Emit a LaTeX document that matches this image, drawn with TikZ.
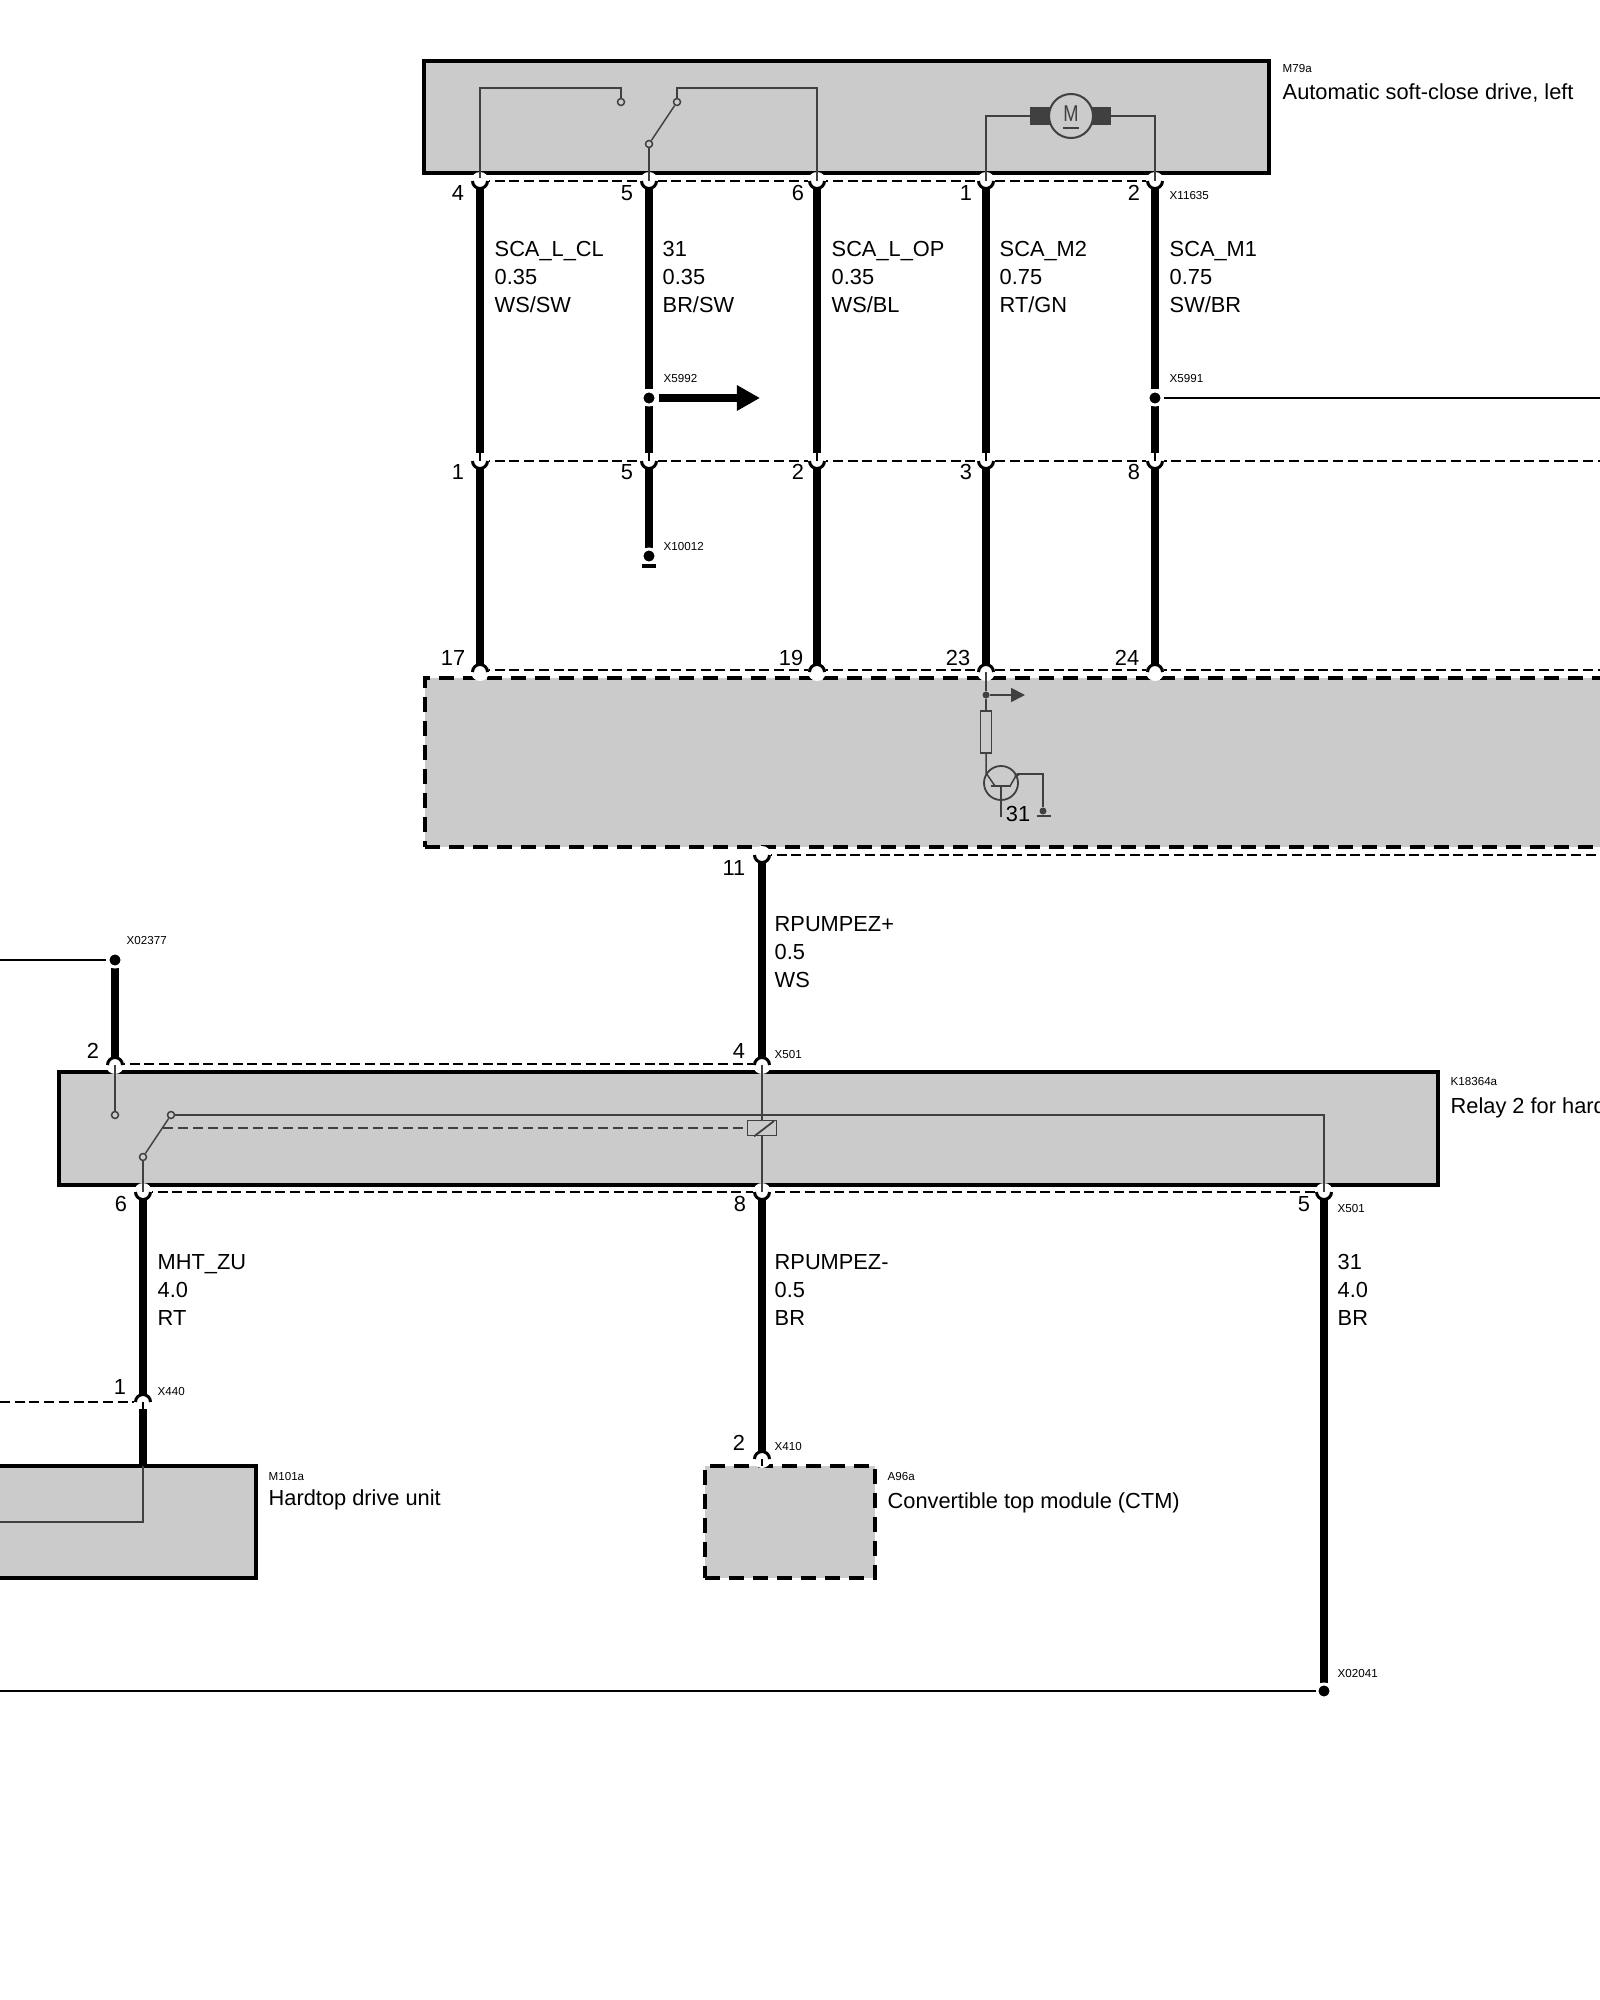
\documentclass[tikz,border=0pt]{standalone}
\usepackage{fontspec}
\setsansfont{Liberation Sans}
\usetikzlibrary{positioning}
\usetikzlibrary{arrows.meta}
\definecolor{modgray}{HTML}{CBCBCB}
\definecolor{inkgray}{HTML}{404040}
\tikzset{
	modbox/.style={draw=black,line width=0.04cm,fill=modgray,outer sep=0pt,inner sep=0pt},
	ctlbox/.style={modbox,dash pattern=on 0.15cm off 0.09cm},
	wire/.style={line width=0.075cm,black},
	thinwire/.style={line width=0.015cm,black},
	inner/.style={line width=0.015cm,inkgray},
	plug/.style={line width=0.013cm,black,dash pattern=on 0.1cm off 0.047cm},
	contact/.style={circle,draw=inkgray,line width=0.015cm,fill=modgray,minimum size=0.07cm,inner sep=0pt},
	splice/.style={circle,fill=black,draw=white,line width=0.03cm,minimum size=0.14cm,inner sep=0pt},
	pinno/.style={font=\sffamily\fontsize{6.2}{7.5}\selectfont,inner sep=0pt},
	wirelbl/.style={font=\sffamily\fontsize{6.2}{7.96}\selectfont,align=left,anchor=north west,inner sep=0pt},
	smalllbl/.style={font=\sffamily\fontsize{3.3}{4}\selectfont,anchor=west,inner sep=0pt},
	namelbl/.style={font=\sffamily\fontsize{6.2}{7.5}\selectfont,anchor=west,inner sep=0pt},
}
% cup open to the top and cup open to the bottom, at a pin
\def\cupdown#1{
	\fill [white] (#1) circle (9);
	\draw [line width=0.03cm] (#1) ++(-7.5,0) arc [start angle=180,end angle=360,radius=7.5];
}
\def\cupup#1{
	\fill [white] (#1) circle (9);
	\draw [line width=0.03cm] (#1) ++(-7.5,0) arc [start angle=180,end angle=0,radius=7.5];
}

\begin{document}
\begin{tikzpicture}[x=0.01cm,y=0.01cm,>=latex,font=\sffamily]
	\useasboundingbox (0,0) rectangle (1600,-2000);

	\fill [white] (0,0) rectangle (1600,-2000);

	% pins
	\coordinate (A4) at (480,-181);
	\coordinate (A5) at (649,-181);
	\coordinate (A6) at (817,-181);
	\coordinate (A1) at (986,-181);
	\coordinate (A2) at (1155,-181);
	\coordinate (B1) at (480,-461);
	\coordinate (B5) at (649,-461);
	\coordinate (B2) at (817,-461);
	\coordinate (B3) at (986,-461);
	\coordinate (B8) at (1155,-461);
	\coordinate (C17) at (480,-672);
	\coordinate (C19) at (817,-672);
	\coordinate (C23) at (986,-672);
	\coordinate (C24) at (1155,-672);
	\coordinate (C11) at (762,-855);
	\coordinate (D2) at (115,-1065);
	\coordinate (D4) at (762,-1065);
	\coordinate (E6) at (143,-1192);
	\coordinate (E8) at (762,-1192);
	\coordinate (E5) at (1324,-1192);
	\coordinate (F1) at (143,-1402);
	\coordinate (F2) at (762,-1459);

	% dashed plugs
	\draw [plug] (480,-181) -- (1155,-181);
	\draw [plug] (480,-461) -- (1600,-461);
	\draw [plug] (480,-670) -- (1600,-670);
	\draw [plug] (762,-855) -- (1600,-855);
	\draw [plug] (115,-1064) -- (762,-1064);
	\draw [plug] (143,-1192) -- (1324,-1192);
	\draw [plug] (0,-1402) -- (143,-1402);

	% modules
	\node [modbox,minimum width=8.44cm,minimum height=1.115cm,anchor=north west] at (424,-61) (M79a) {};
	\node [ctlbox,minimum width=12.5cm,minimum height=1.69cm,anchor=north west] at (425,-678) (ctl) {};
	\node [modbox,minimum width=13.78cm,minimum height=1.13cm,anchor=north west] at (59,-1072) (K18364a) {};
	\node [modbox,minimum width=2.76cm,minimum height=1.12cm,anchor=north east] at (256,-1466) (M101a) {};
	\node [ctlbox,minimum width=1.70cm,minimum height=1.12cm,anchor=north west] at (705,-1466) (A96a) {};

	% cups
	\cupdown{A4} \cupdown{A5} \cupdown{A6} \cupdown{A1} \cupdown{A2}
	\cupdown{B1} \cupdown{B5} \cupdown{B2} \cupdown{B3} \cupdown{B8}
	\cupup{C17} \cupup{C19} \cupup{C23} \cupup{C24}
	\cupdown{C11} \cupup{D2} \cupup{D4}
	\cupdown{E6} \cupdown{E8} \cupdown{E5}
	\cupup{F1} \cupup{F2}

	% wires
	\draw [wire,shorten <=0.07cm,shorten >=0.08cm] (A4) -- (B1);
	\draw [wire,shorten <=0.07cm,shorten >=0.08cm] (A6) -- (B2);
	\draw [wire,shorten <=0.07cm,shorten >=0.08cm] (A1) -- (B3);
	\draw [wire,shorten <=0.07cm] (A5) -- (649,-389);
	\draw [wire,shorten >=0.08cm] (649,-406) -- (B5);
	\draw [wire,shorten <=0.07cm] (A2) -- (1155,-389);
	\draw [wire,shorten >=0.08cm] (1155,-406) -- (B8);
	\draw [wire,shorten <=0.07cm,shorten >=0.07cm] (B1) -- (C17);
	\draw [wire,shorten <=0.07cm,shorten >=0.07cm] (B2) -- (C19);
	\draw [wire,shorten <=0.07cm,shorten >=0.07cm] (B3) -- (C23);
	\draw [wire,shorten <=0.07cm,shorten >=0.07cm] (B8) -- (C24);
	\draw [wire,shorten <=0.07cm,shorten >=0.07cm] (C11) -- (D4);
	\draw [wire,shorten <=0.07cm,shorten >=0.07cm] (E6) -- (F1);
	\draw [wire,shorten <=0.07cm,shorten >=0.07cm] (E8) -- (F2);
	\draw [wire,shorten <=0.07cm] (B5) -- (649,-548);
	\draw [wire,shorten <=0.07cm] (E5) -- (1324,-1683);
	\draw [wire,shorten >=0.07cm] (115,-968) -- (D2);
	\draw [wire] (143,-1409) -- (143,-1466);

	% stubs between the cups and the modules
	\draw [thinwire] (B1) ++(0,8) -- (B1);
	\draw [thinwire] (B5) ++(0,8) -- (B5);
	\draw [thinwire] (B2) ++(0,8) -- (B2);
	\draw [thinwire] (B3) ++(0,8) -- (B3);
	\draw [thinwire] (B8) ++(0,8) -- (B8);
	\draw [thinwire] (F1) ++(0,-7) -- (F1);
	\draw [thinwire] (F2) ++(0,-7) -- (F2);

	% splices
	\node [splice] at (649,-398) (X5992) {};
	\node [splice] at (1155,-398) (X5991) {};
	\node [splice] at (649,-556) (X10012) {};
	\node [splice] at (115,-960) (X02377) {};
	\node [splice] at (1324,-1691) (X02041) {};
	\draw [line width=0.07cm,-{Triangle[length=0.23cm,width=0.24cm]}] (X5992.east) ++(1,0) -- (760,-398);
	\draw [thinwire] (X5991.east) -- (1600,-398);
	\draw [thinwire] (X02377.west) -- (0,-960);
	\draw [thinwire] (X02041.west) -- (0,-1691);
	\draw [line width=0.035cm] (642,-566) -- (656,-566);

	% inside M79a
	\node [contact] at (621,-102) (S1) {};
	\node [contact] at (677,-102) (S2) {};
	\node [contact] at (649,-144) (S3) {};
	\draw [inner] (A4) ++(0,3) |- (621,-88) -- (S1);
	\draw [inner] (S2) -- (677,-88) -| (A6);
	\draw [inner] (S3) -- (S2);
	\draw [inner] (S3) -- (A5);
	\node [circle,draw=inkgray,line width=0.02cm,fill=modgray,minimum size=0.44cm,inner sep=0pt] at (1071,-116) (motor) {};
	\node [font=\sffamily\fontsize{6.5}{7}\selectfont,text=inkgray,inner sep=0pt,xscale=0.8] at (1071,-114) (motorM) {M};
	\draw [inner] (1063,-128) -- (1079,-128);
	\fill [inkgray] (1030,-107) rectangle (1050,-125);
	\fill [inkgray] (1092,-107) rectangle (1111,-125);
	\coordinate (brushL) at (1030,-116);
	\coordinate (brushR) at (1111,-116);
	\draw [inner] (A1) |- (brushL);
	\draw [inner] (A2) |- (brushR);

	% inside the control unit
	\node [circle,fill=inkgray,minimum size=0.07cm,inner sep=0pt] at (986,-695) (tap) {};
	\draw [inner,line width=0.018cm,-{Triangle[length=0.14cm,width=0.14cm]}] (tap) -- (1025,-695);
	\node [draw=inkgray,line width=0.018cm,fill=modgray,minimum width=0.11cm,minimum height=0.42cm,inner sep=0pt] at (986,-732) (Rpull) {};
	\draw [inner] (C23) -- (tap);
	\draw [inner] (tap) -- (Rpull);
	\node [circle,draw=inkgray,line width=0.018cm,minimum size=0.34cm,inner sep=0pt] at (1001,-783) (T1) {};
	\draw [inner] (Rpull) -- (986,-773) -- (995,-786);
	\draw [inner] (991,-786) -- (1011,-786);
	\draw [inner] (1001,-786) -- (1001,-817);
	\draw [inner,{Triangle[length=0.05cm,width=0.05cm,reversed]}-] (1017,-774) -- (1010,-786);
	\node [circle,fill=inkgray,minimum size=0.07cm,inner sep=0pt] at (1043,-811) (gnd) {};
	\draw [inner] (1017,-774) -| (gnd);
	\draw [inner] (1037,-816) -- (1051,-816);

	% inside the relay
	\node [contact] at (115,-1115) (K1) {};
	\node [contact] at (171,-1115) (K2) {};
	\node [contact] at (143,-1157) (K3) {};
	\draw [inner] (D2) -- (K1);
	\draw [inner] (K3) -- (K2);
	\draw [inner] (K3) -- (E6);
	\node [draw=inkgray,line width=0.018cm,fill=modgray,minimum width=0.29cm,minimum height=0.15cm,inner sep=0pt] at (762,-1128) (coil) {};
	\draw [inner] (D4) -- (coil);
	\draw [inner] (coil) -- (E8);
	\draw [inner] (K2) -- (1324,-1115) -- (E5);
	\draw [inner,line width=0.018cm] (coil.south) ++(-8,0) -- (774,-1121);
	\draw [inner,dash pattern=on 0.1cm off 0.05cm] (163,-1128) -- (coil.west);

	% inside M101a
	\draw [inner] (143,-1466) -- (143,-1522) -- (0,-1522);

	% pin numbers
	\node [pinno] at (458,-193) (n4) {4};
	\node [pinno] at (627,-193) (n5) {5};
	\node [pinno] at (798,-193) (n6) {6};
	\node [pinno] at (966,-193) (n1) {1};
	\node [pinno] at (1134,-193) (n2) {2};
	\node [pinno] at (458,-472) (m1) {1};
	\node [pinno] at (627,-472) (m5) {5};
	\node [pinno] at (798,-472) (m2) {2};
	\node [pinno] at (966,-472) (m3) {3};
	\node [pinno] at (1134,-472) (m8) {8};
	\node [pinno] at (453,-658) (p17) {17};
	\node [pinno] at (791,-658) (p19) {19};
	\node [pinno] at (958,-658) (p23) {23};
	\node [pinno] at (1127,-658) (p24) {24};
	\node [pinno] at (734,-868) (p11) {11};
	\node [pinno] at (93,-1051) (q2) {2};
	\node [pinno] at (739,-1051) (q4) {4};
	\node [pinno] at (121,-1204) (r6) {6};
	\node [pinno] at (740,-1204) (r8) {8};
	\node [pinno] at (1304,-1204) (r5) {5};
	\node [pinno] at (120,-1387) (s1) {1};
	\node [pinno] at (739,-1443) (s2) {2};
	\node [pinno] at (1018,-814) (t31) {31};

	% wire labels
	\node [wirelbl] at (494,-241) (wA) {SCA\_L\_CL\\0.35\\WS/SW};
	\node [wirelbl] at (662,-241) (wB) {31\\0.35\\BR/SW};
	\node [wirelbl] at (831,-241) (wC) {SCA\_L\_OP\\0.35\\WS/BL};
	\node [wirelbl] at (999,-241) (wD) {SCA\_M2\\0.75\\RT/GN};
	\node [wirelbl] at (1169,-241) (wE) {SCA\_M1\\0.75\\SW/BR};
	\node [wirelbl] at (774,-916) (wF) {RPUMPEZ+\\0.5\\WS};
	\node [wirelbl] at (157,-1254) (wG) {MHT\_ZU\\4.0\\RT};
	\node [wirelbl] at (774,-1254) (wH) {RPUMPEZ-\\0.5\\BR};
	\node [wirelbl] at (1337,-1254) (wI) {31\\4.0\\BR};

	% connector and module labels
	\node [smalllbl] at (1169,-196) (lX11635) {X11635};
	\node [smalllbl] at (663,-379) (lX5992) {X5992};
	\node [smalllbl] at (1169,-379) (lX5991) {X5991};
	\node [smalllbl] at (663,-546) (lX10012) {X10012};
	\node [smalllbl] at (126,-940) (lX02377) {X02377};
	\node [smalllbl] at (774,-1054) (lX501a) {X501};
	\node [smalllbl] at (1337,-1208) (lX501b) {X501};
	\node [smalllbl] at (157,-1391) (lX440) {X440};
	\node [smalllbl] at (774,-1446) (lX410) {X410};
	\node [smalllbl] at (1337,-1673) (lX02041) {X02041};
	\node [smalllbl] at (1282,-69) (lM79a) {M79a};
	\node [namelbl] at (1282,-93) (tM79a) {Automatic soft-close drive, left};
	\node [smalllbl] at (1450,-1081) (lK18364a) {K18364a};
	\node [namelbl] at (1450,-1108) (tK18364a) {Relay 2 for hard};
	\node [smalllbl] at (268,-1476) (lM101a) {M101a};
	\node [namelbl] at (268,-1500) (tM101a) {Hardtop drive unit};
	\node [smalllbl] at (887,-1476) (lA96a) {A96a};
	\node [namelbl] at (887,-1503) (tA96a) {Convertible top module (CTM)};
\end{tikzpicture}
\end{document}
